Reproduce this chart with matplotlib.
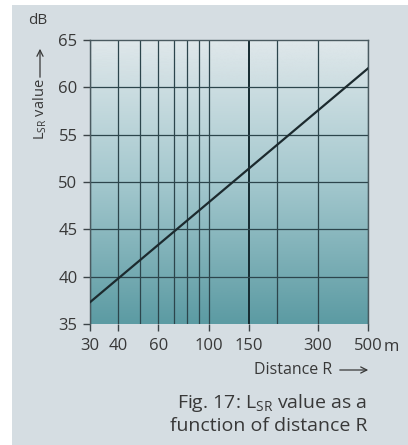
import numpy as np
import matplotlib
matplotlib.use("Agg")
import matplotlib.pyplot as plt
from matplotlib.patches import Rectangle
from matplotlib.colors import LinearSegmentedColormap

plt.rcParams['font.family'] = ['Open Sans', 'DejaVu Sans']
plt.rcParams['mathtext.fontset'] = 'custom'
plt.rcParams['mathtext.rm'] = 'Open Sans'

# data
distance = [30, 500]
lsr_value = [37.3, 62.0]
grid_x = [30, 40, 50, 60, 70, 80, 90, 100, 150, 200, 300, 500]
xtick_vals = [30, 40, 60, 100, 150, 300, 500]
xtick_labels = ['30', '40', '60', '100', '150', '300', '500']
ytick_vals = [35, 40, 45, 50, 55, 60, 65]

W, H = 408, 445
fig = plt.figure(figsize=(W / 100, H / 100), dpi=100, facecolor='white')
# gray panel background with white margin at top/left
bg = Rectangle((12 / W, 0), 1 - 12 / W, 1 - 5 / H, transform=fig.transFigure,
               facecolor='#d5dde2', edgecolor='none', zorder=-10)
fig.patches.append(bg)

L, R, T, B = 90, 368, 40, 324
ax = fig.add_axes([L / W, 1 - B / H, (R - L) / W, (B - T) / H])
ax.set_xscale('log')
ax.patch.set_alpha(0)

cmap = LinearSegmentedColormap.from_list('g', ['#e0e8eb', '#a4c8ce', '#5c9ba3'])
grad = np.linspace(0, 1, 256).reshape(-1, 1)
ax.imshow(grad, cmap=cmap, aspect='auto', extent=[30, 500, 35, 65], origin='upper',
          zorder=0, interpolation='bicubic')
ax.set_xlim(30, 500)
ax.set_ylim(35, 65)

for gx in grid_x:
    lw = 1.4 if gx == 150 else 0.9
    col = '#142a30' if gx == 150 else '#2c454c'
    ax.axvline(gx, color=col, lw=lw, zorder=1)
for gy in ytick_vals[1:-1]:
    ax.axhline(gy, color='#2c454c', lw=0.9, zorder=1)

ax.plot(distance, lsr_value, color='#1c2a2e', lw=1.6, zorder=3)

ax.set_xticks(xtick_vals)
ax.set_xticklabels(xtick_labels)
ax.xaxis.set_minor_locator(matplotlib.ticker.NullLocator())
ax.set_yticks(ytick_vals)
ax.tick_params(axis='both', colors='#3c4448', labelsize=12, length=5, width=1, direction='out')
ax.tick_params(axis='x', pad=5)
ax.tick_params(axis='y', pad=4)
for lab in ax.get_xticklabels() + ax.get_yticklabels():
    lab.set_color('#383838')

for s in ['left', 'top', 'right']:
    ax.spines[s].set_color('#4a5a60')
    ax.spines[s].set_linewidth(1.0)
ax.spines['bottom'].set_visible(False)

tc = '#383838'
arrow_kw = dict(arrowstyle='->', color=tc, lw=0.9, mutation_scale=11)

fig.text(384 / W, 1 - 347 / H, 'm', fontsize=12, color=tc, ha='left', va='center')
fig.text(38 / W, 1 - 21 / H, 'dB', fontsize=11, color=tc, ha='center', va='center')
fig.text(40 / W, 1 - 140 / H, r'L$_{\rm SR}$ value', fontsize=10.5, color=tc,
         rotation=90, ha='center', va='bottom')
fig.add_artist(matplotlib.patches.FancyArrowPatch(
    (40 / W, 1 - 80 / H), (40 / W, 1 - 46 / H), transform=fig.transFigure, **arrow_kw))

fig.text(332 / W, 1 - 370 / H, 'Distance R', fontsize=11.5, color=tc, ha='right', va='center')
fig.add_artist(matplotlib.patches.FancyArrowPatch(
    (337 / W, 1 - 370 / H), (371 / W, 1 - 370 / H), transform=fig.transFigure, **arrow_kw))

fig.text(367 / W, 1 - 403 / H, r'Fig. 17: L$_{\rm SR}$ value as a', fontsize=14, color=tc,
         ha='right', va='center')
fig.text(367 / W, 1 - 426 / H, 'function of distance R', fontsize=14, color=tc,
         ha='right', va='center')

fig.savefig('out.png', dpi=100, facecolor=fig.get_facecolor())
